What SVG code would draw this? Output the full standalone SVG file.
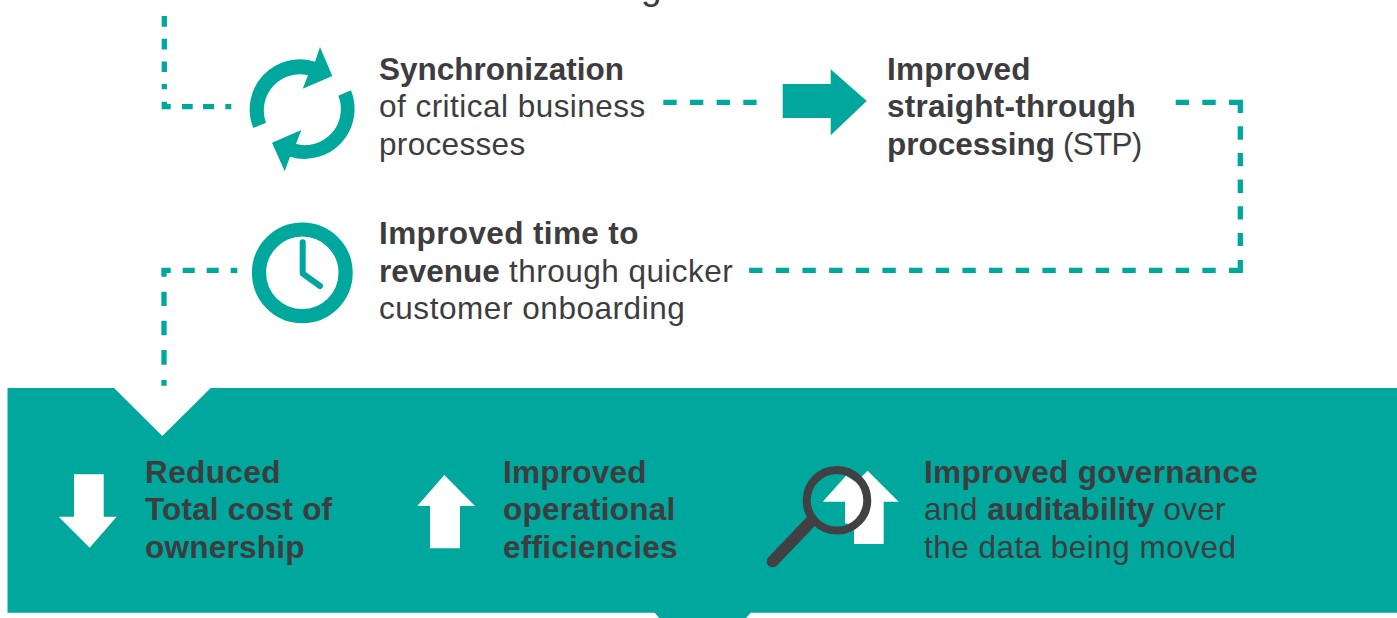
<svg xmlns="http://www.w3.org/2000/svg" width="1397" height="618" viewBox="0 0 1397 618">
<style>
text{font-family:"Liberation Sans",Arial,sans-serif;font-size:31.5px;fill:#3d3d3f;letter-spacing:.47px}
.b{font-weight:700;letter-spacing:.26px}
.c{fill:none;stroke:#00a79d;stroke-width:5.3}
.d1{stroke-dasharray:13.33 13.33}
.t{fill:#00a79d}
.w{fill:#fff}
.k{fill:none;stroke:#414042}
</style>
<rect width="1397" height="618" fill="#fff"/>
<text x="641" y="-1" style="font-size:37px;letter-spacing:0">g</text>
<g id="connectors">
<path class="c" stroke-width="5" stroke-dasharray="10.7 12" d="M164.300 16V89.300"/>
<path class="c" d="M164.300 101.700V106.700H170.700M182 106.700H192.700M203 106.700H214M225.300 106.700H231.300"/>
<path class="c d1" d="M663.300 102.300H757"/>
<path class="c d1" d="M1175.700 102.300H1216"/>
<path class="c" d="M1229 102.300H1240.300V113"/>
<path class="c d1" d="M1240.300 126.300V246"/>
<path class="c" d="M1240.300 260V270.300H1229"/>
<path class="c d1" d="M1215.700 270.300H749"/>
<path class="c" d="M237.300 270.300H230.700M218.700 270.300H206.700M194.700 270.300H182.700M170.700 270.300H164V276.700M164 291.700V306M164 320.700V335.300M164 350V364.700M164 380V385.700"/>
</g>
<g id="panel">
<path class="t" d="M7.500 388H114L162.300 436L210.700 388H1397V612.700H750.700L746 618H659.300L654.700 612.700H7.500Z"/>
</g>
<g id="sync">
<path class="t" d="M253.300 128A50 50 0 0 1 315 61.700L320 47L332.300 76L302.700 88.700L308 75.300A36 36 0 0 0 266 122.700Z"/>
<path class="t" d="M351 90.300A50 50 0 0 1 290 156.700L284.700 171.300L272 142.700L301.300 130L296 144A36 36 0 0 0 338.300 95.700Z"/>
<text x="379" y="80" class="b" style="letter-spacing:0">Synchronization</text>
<text x="379" y="117">of critical business</text>
<text x="379" y="155" style="letter-spacing:.33px">processes</text>
</g>
<g id="stp">
<path class="t" d="M782.700 84H830.700V69.300L866.700 101L830.700 135.300V118H782.700Z"/>
<text x="887" y="80" class="b">Improved</text>
<text x="887" y="117" class="b">straight-through</text>
<text x="887" y="155"><tspan class="b" style="letter-spacing:0">processing</tspan><tspan style="letter-spacing:-.75px"> (STP)</tspan></text>
</g>
<g id="time">
<circle cx="302.300" cy="272.800" r="43.300" fill="none" stroke="#00a79d" stroke-width="14.200"/>
<path d="M302.700 242.300V273.500L320 286" fill="none" stroke="#00a79d" stroke-width="6" stroke-linecap="round" stroke-linejoin="round"/>
<text x="379" y="244" class="b" style="letter-spacing:.38px">Improved time to</text>
<text x="379" y="282"><tspan class="b" style="letter-spacing:0">revenue</tspan> through quicker</text>
<text x="379" y="319" style="letter-spacing:.55px">customer onboarding</text>
</g>
<g id="cost">
<path class="w" d="M74 474.300H103.700V516.700H116.700L89.700 547.700L58.700 516.700H74Z"/>
<text x="145" y="483" class="b" style="letter-spacing:.4px">Reduced</text>
<text x="145" y="520" class="b" style="letter-spacing:.18px">Total cost of</text>
<text x="145" y="558" class="b">ownership</text>
</g>
<g id="ops">
<path class="w" d="M444.300 475L475 506H460V548.300H430V506H417.300Z"/>
<text x="503" y="483" class="b">Improved</text>
<text x="503" y="520" class="b">operational</text>
<text x="503" y="558" class="b">efficiencies</text>
</g>
<g id="gov">
<path class="w" d="M867.700 470.700L898.700 501.700H883.700V544H854V525L845 523.300V501.700H822.700L846 475.700L856 482Z"/>
<circle class="k" cx="837" cy="500.300" r="30.300" stroke-width="8"/>
<path class="k" d="M810.700 521.700L772.700 561.300" stroke-width="12" stroke-linecap="round"/>
<text x="924" y="483" class="b" style="letter-spacing:.36px">Improved governance</text>
<text x="924" y="520">and <tspan class="b" style="letter-spacing:.1px">auditability</tspan><tspan style="letter-spacing:.2px"> over</tspan></text>
<text x="924" y="558">the data being moved</text>
</g>
</svg>
